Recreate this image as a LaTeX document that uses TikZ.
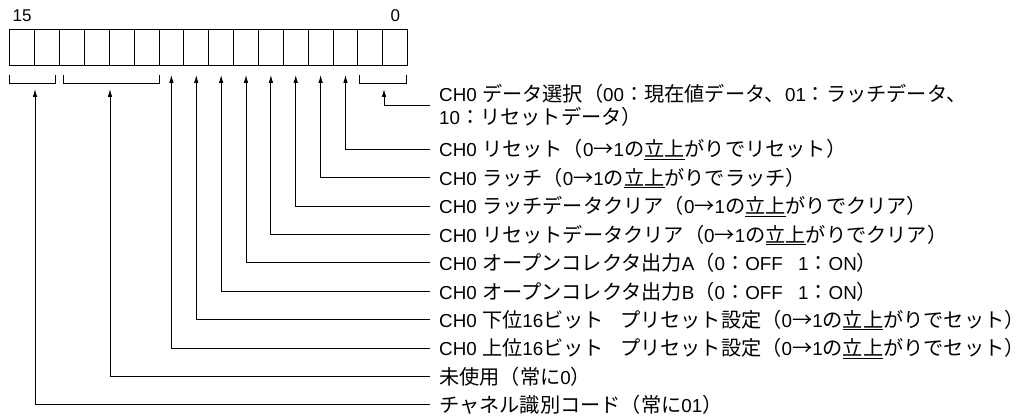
\documentclass[tikz,border=0pt]{standalone}
\usepackage{fontspec}
\setmainfont{Noto Sans CJK JP}
\newfontfamily\lat{Liberation Sans}[Scale=0.93]
\newfontfamily\numfont{Liberation Sans}
\usetikzlibrary{arrows.meta}
\tikzset{
  cell/.style={draw, line width=0.9pt, minimum width=24.87pt, minimum height=35.7pt, inner sep=0pt, anchor=north west},
  bitnum/.style={inner sep=0pt, font=\numfont\fontsize{17}{19}\selectfont},
  lbl/.style={anchor=west, inner sep=0pt, text height=17.8pt, text depth=2.4pt, font=\fontsize{20.2}{23.5}\selectfont},
  lbltwo/.style={anchor=west, inner sep=0pt, align=left, font=\fontsize{20.2}{23.5}\selectfont},
  arr/.style={line width=0.9pt, shorten <=9pt, -{Latex[length=8pt,width=4.5pt]}},
  brk/.style={line width=0.9pt}
}
\newcommand{\ul}[1]{\underline{#1}}
\newcommand{\lfn}[1]{{\lat #1}}
\begin{document}
\begin{tikzpicture}[x=1pt,y=-1pt]
\useasboundingbox (0,0) rectangle (1028,417);
% register cells
\foreach \i in {0,...,15} {
  \pgfmathtruncatemacro\bit{15-\i}
  \node[cell] (c\bit) at ({9.3+24.87*\i},29.3) {};
}
% bit numbers
\path (c15.north) ++(0,-7.6) node[bitnum, anchor=base] (n15) {15};
\path (c0.north) ++(0,-7.6) node[bitnum, anchor=base] (n0) {0};
% brackets
\draw[brk] (9.3,75) |- (55.7,83.3) -- (55.7,75);
\draw[brk] (63.3,75) |- (159,83.3) -- (159,75);
\draw[brk] (359.3,75) |- (406,83.3) -- (406,75);
\coordinate (k15) at (35,89);
\coordinate (k13) at (110,89);
\coordinate (k1) at (384,89);
% labels
\node[lbltwo] (L0) at (439,105.5) {\lfn{CH0 }データ選択（\lfn{00}：現在値データ、\lfn{01}：ラッチデータ、\\\lfn{10}：リセットデータ）};
\node[lbl] (L2) at (439,149.3) {\lfn{CH0 }リセット（\lfn{0}→\lfn{1}の\ul{立上}がりでリセット）};
\node[lbl] (L3) at (439,177.7) {\lfn{CH0 }ラッチ（\lfn{0}→\lfn{1}の\ul{立上}がりでラッチ）};
\node[lbl] (L4) at (439,206.1) {\lfn{CH0 }ラッチデータクリア（\lfn{0}→\lfn{1}の\ul{立上}がりでクリア）};
\node[lbl] (L5) at (439,234.5) {\lfn{CH0 }リセットデータクリア（\lfn{0}→\lfn{1}の\ul{立上}がりでクリア）};
\node[lbl] (L6) at (439,262.9) {\lfn{CH0 }オープンコレクタ出力\lfn{A}（\lfn{0}：\lfn{OFF}\hspace{0.75em}\lfn{1}：\lfn{ON}）};
\node[lbl] (L7) at (439,291.3) {\lfn{CH0 }オープンコレクタ出力\lfn{B}（\lfn{0}：\lfn{OFF}\hspace{0.75em}\lfn{1}：\lfn{ON}）};
\node[lbl] (L8) at (439,319.7) {\lfn{CH0 }下位\lfn{16}ビット\hspace{0.8em}プリセット設定（\lfn{0}→\lfn{1}の\ul{立上}がりでセット）};
\node[lbl] (L9) at (439,348.1) {\lfn{CH0 }上位\lfn{16}ビット\hspace{0.8em}プリセット設定（\lfn{0}→\lfn{1}の\ul{立上}がりでセット）};
\node[lbl] (L10) at (439,376.5) {未使用（常に\lfn{0}）};
\node[lbl] (L11) at (439,404.9) {チャネル識別コード（常に\lfn{01}）};
% connectors
\draw[arr] (L0.west) -| (k1);
\draw[arr] (L2.west) -| ([yshift=-9pt]c2.south);
\draw[arr] (L3.west) -| ([yshift=-9pt]c3.south);
\draw[arr] (L4.west) -| ([yshift=-9pt]c4.south);
\draw[arr] (L5.west) -| ([yshift=-9pt]c5.south);
\draw[arr] (L6.west) -| ([yshift=-9pt]c6.south);
\draw[arr] (L7.west) -| ([yshift=-9pt]c7.south);
\draw[arr] (L8.west) -| ([yshift=-9pt]c8.south);
\draw[arr] (L9.west) -| ([yshift=-9pt]c9.south);
\draw[arr] (L10.west) -| (k13);
\draw[arr] (L11.west) -| (k15);
\end{tikzpicture}
\end{document}
